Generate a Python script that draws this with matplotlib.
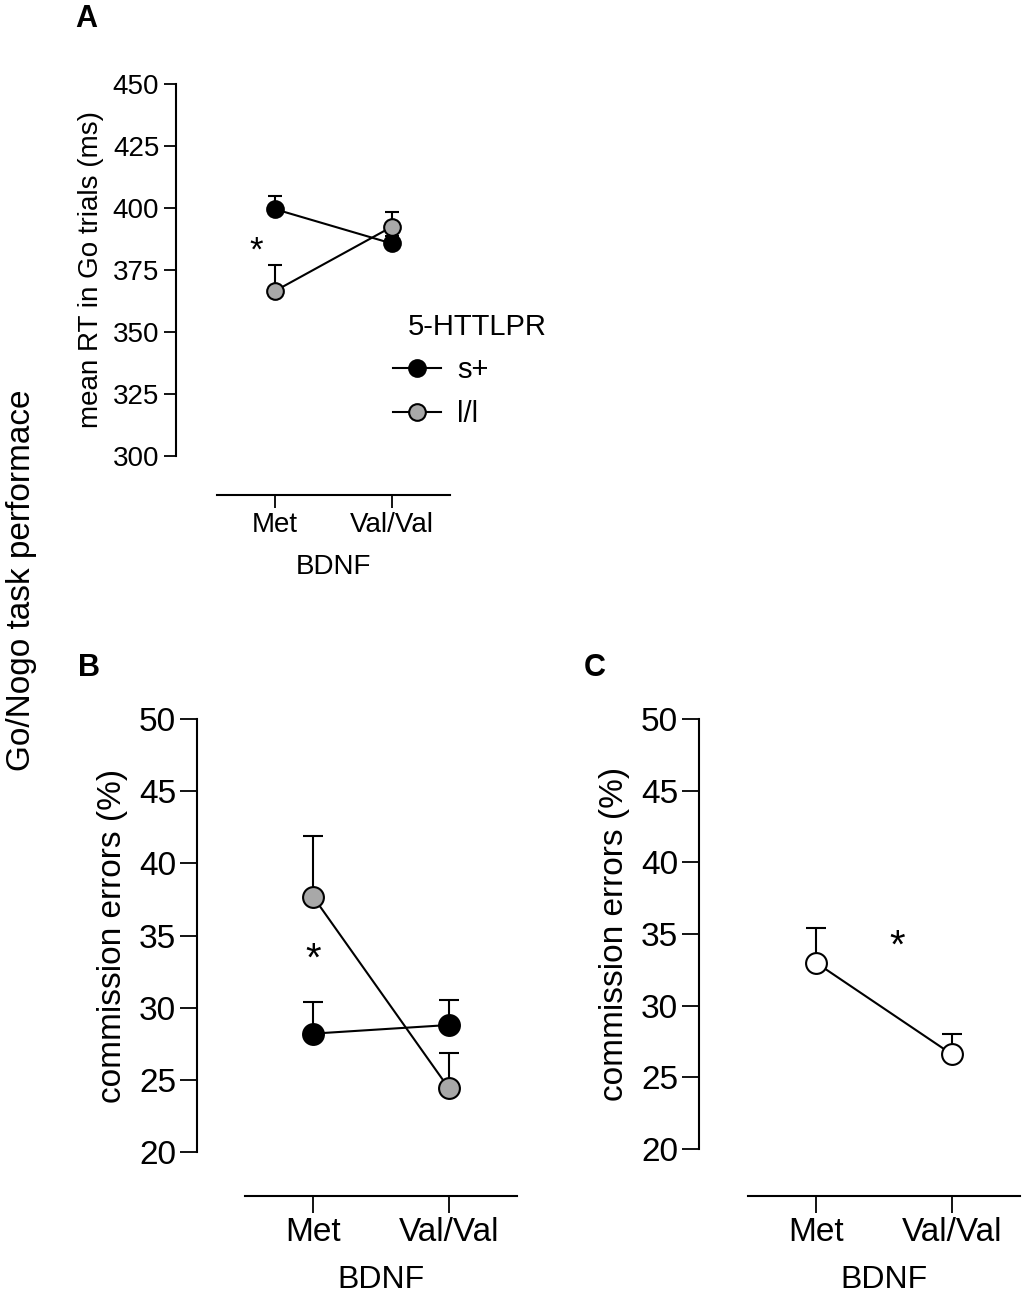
import numpy as np
import matplotlib
matplotlib.use("Agg")
import matplotlib.pyplot as plt
from matplotlib.lines import Line2D

plt.rcParams['font.family'] = ['Liberation Sans', 'DejaVu Sans']

# data
bdnf = ["Met", "Val/Val"]

rt_splus = [399.5, 385.7]
rt_splus_sem = [5.5, 3.0]
rt_ll = [366.6, 392.4]
rt_ll_sem = [10.6, 5.8]

ce_splus = [28.2, 28.8]
ce_splus_sem = [2.2, 1.7]
ce_ll = [37.7, 24.4]
ce_ll_sem = [4.2, 2.45]

ce_all = [33.0, 26.6]
ce_all_sem = [2.4, 1.45]

genotypes = ["s+", "l/l"]
gray = "#a8a8a8"

W, H = 1027, 1300
fig = plt.figure(figsize=(W / 100, H / 100), dpi=100)


def px_axes(left, right, top, bottom):
    return fig.add_axes([left / W, 1 - bottom / H, (right - left) / W, (bottom - top) / H])


def style(ax, out_left, out_bottom, fs, ticklen):
    for s in ["top", "right"]:
        ax.spines[s].set_visible(False)
    ax.spines["left"].set_position(("outward", out_left * 0.72))
    ax.spines["bottom"].set_position(("outward", out_bottom * 0.72))
    ax.spines["left"].set_linewidth(1.5)
    ax.spines["bottom"].set_linewidth(1.5)
    ax.tick_params(width=1.3, length=ticklen, labelsize=fs, pad=3)
    ax.set_xlim(-0.5, 1.5)
    ax.set_xticks([0, 1])
    ax.set_xticklabels(bdnf)


def series(ax, y, sem, face, ms, cap):
    x = np.arange(len(y))
    err = [np.zeros(len(sem)), sem]
    cont = ax.errorbar(x, y, yerr=err, fmt="none", ecolor="black", elinewidth=1.5,
                       capsize=cap, capthick=1.5, zorder=2)
    # only the upper cap is drawn in the original
    for cl in cont[1]:
        if np.allclose(cl.get_ydata(), y):
            cl.set_visible(False)
    ax.plot(x, y, "-", color="black", lw=1.5, marker="o", ms=ms,
            markerfacecolor=face, markeredgecolor="black", markeredgewidth=1.5, zorder=3)


# ---- panel A ----
axA = px_axes(217, 450, 84, 456)
style(axA, 41, 39, 20, 9)
series(axA, rt_splus, rt_splus_sem, "black", 12, 4.7)
series(axA, rt_ll, rt_ll_sem, gray, 12, 4.7)
axA.set_ylim(300, 450)
axA.set_yticks(np.arange(300, 451, 25))
axA.set_xlabel("BDNF", fontsize=20, labelpad=12)
axA.set_ylabel("mean RT in Go trials (ms)", fontsize=20, labelpad=6)
axA.text(-0.16, 382.5, "*", fontsize=25, ha="center", va="center")

fig.text(408 / W, 1 - 327 / H, "5-HTTLPR", fontsize=21, ha="left", va="center")
handles = [Line2D([], [], color="black", lw=1.5, marker="o", ms=12,
                  markerfacecolor=f, markeredgecolor="black", markeredgewidth=1.5)
           for f in ["black", gray]]
fig.legend(handles, genotypes, frameon=False,
           loc="upper left", bbox_to_anchor=(367 / W, 1 - 330 / H),
           fontsize=21, handlelength=1.65, labelspacing=0.55, handletextpad=0.55)

# ---- panel B ----
axB = px_axes(245, 517, 719, 1152)
style(axB, 48, 44, 24, 12)
series(axB, ce_splus, ce_splus_sem, "black", 15, 7.5)
series(axB, ce_ll, ce_ll_sem, gray, 15, 7.5)
axB.set_ylim(20, 50)
axB.set_yticks(np.arange(20, 51, 5))
axB.set_xlabel("BDNF", fontsize=23, labelpad=12)
axB.set_ylabel("commission errors (%)", fontsize=24, labelpad=8)
axB.text(0, 33.3, "*", fontsize=29, ha="center", va="center")

# ---- panel C ----
axC = px_axes(748, 1020, 719, 1149)
style(axC, 49, 47, 24, 12)
series(axC, ce_all, ce_all_sem, "white", 15, 7.5)
axC.set_ylim(20, 50)
axC.set_yticks(np.arange(20, 51, 5))
axC.set_xlabel("BDNF", fontsize=23, labelpad=12)
axC.set_ylabel("commission errors (%)", fontsize=24, labelpad=8)
axC.text(0.6, 34.1, "*", fontsize=29, ha="center", va="center")

# panel letters and shared label
fig.text(86 / W, 1 - 19 / H, "A", fontsize=22, fontweight="bold", ha="center", va="center")
fig.text(89 / W, 1 - 668 / H, "B", fontsize=22, fontweight="bold", ha="center", va="center")
fig.text(595 / W, 1 - 668 / H, "C", fontsize=22, fontweight="bold", ha="center", va="center")
fig.text(22 / W, 1 - 580 / H, "Go/Nogo task performace", fontsize=24, rotation=90,
         ha="center", va="center")

fig.savefig("out.png", dpi=100)
